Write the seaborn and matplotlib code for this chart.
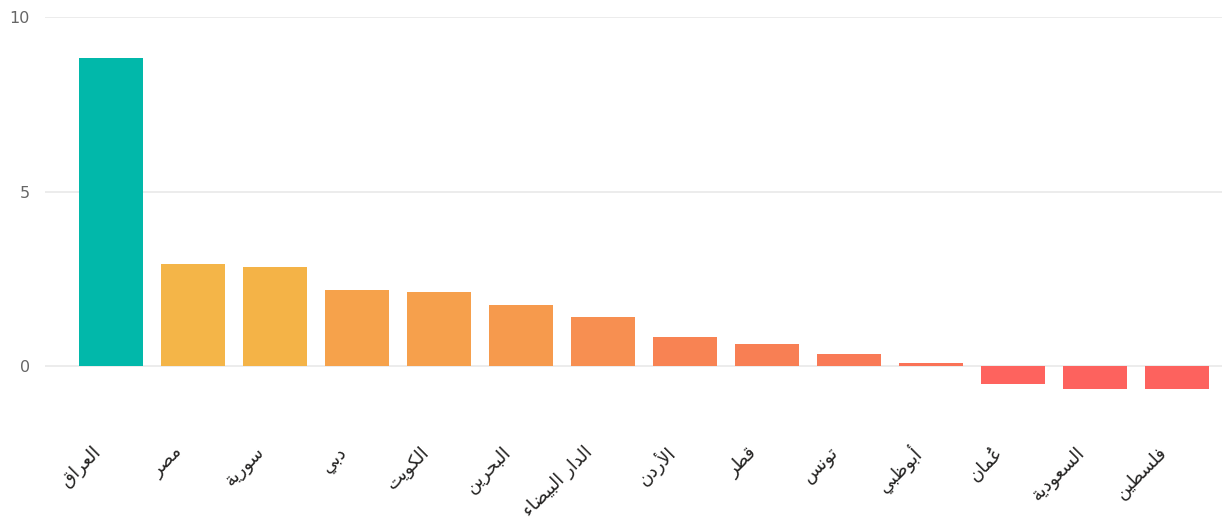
import matplotlib
matplotlib.use("Agg")
import matplotlib.pyplot as plt
import matplotlib.transforms as mtransforms
import seaborn as sns

# ---- data ----
categories = ["العراق", "مصر", "سورية", "دبي", "الكويت", "البحرين", "الدار البيضاء",
              "الأردن", "قطر", "تونس", "أبوظبي", "عُمان", "السعودية", "فلسطين"]
values = [8.83, 2.92, 2.84, 2.18, 2.13, 1.75, 1.40, 0.83, 0.63, 0.36, 0.08, -0.50, -0.66, -0.66]
y_ticks = [0, 5, 10]

# ---- style ----
bar_colors = ["#01B8AA", "#F4B548", "#F4B347", "#F6A24B", "#F6A04C", "#F69A4D", "#F78F51",
              "#F88353", "#F87F54", "#F97A56", "#FA7257", "#FE635E", "#FD625E", "#FD625E"]

# ---- minimal Arabic shaping (matplotlib has no complex text layout) ----
_FORMS = {
    "\u0621": (0xFE80, None, None, None),
    "\u0622": (0xFE81, 0xFE82, None, None),
    "\u0623": (0xFE83, 0xFE84, None, None),
    "\u0624": (0xFE85, 0xFE86, None, None),
    "\u0625": (0xFE87, 0xFE88, None, None),
    "\u0626": (0xFE89, 0xFE8A, 0xFE8B, 0xFE8C),
    "\u0627": (0xFE8D, 0xFE8E, None, None),
    "\u0628": (0xFE8F, 0xFE90, 0xFE91, 0xFE92),
    "\u0629": (0xFE93, 0xFE94, None, None),
    "\u062A": (0xFE95, 0xFE96, 0xFE97, 0xFE98),
    "\u062B": (0xFE99, 0xFE9A, 0xFE9B, 0xFE9C),
    "\u062C": (0xFE9D, 0xFE9E, 0xFE9F, 0xFEA0),
    "\u062D": (0xFEA1, 0xFEA2, 0xFEA3, 0xFEA4),
    "\u062E": (0xFEA5, 0xFEA6, 0xFEA7, 0xFEA8),
    "\u062F": (0xFEA9, 0xFEAA, None, None),
    "\u0630": (0xFEAB, 0xFEAC, None, None),
    "\u0631": (0xFEAD, 0xFEAE, None, None),
    "\u0632": (0xFEAF, 0xFEB0, None, None),
    "\u0633": (0xFEB1, 0xFEB2, 0xFEB3, 0xFEB4),
    "\u0634": (0xFEB5, 0xFEB6, 0xFEB7, 0xFEB8),
    "\u0635": (0xFEB9, 0xFEBA, 0xFEBB, 0xFEBC),
    "\u0636": (0xFEBD, 0xFEBE, 0xFEBF, 0xFEC0),
    "\u0637": (0xFEC1, 0xFEC2, 0xFEC3, 0xFEC4),
    "\u0638": (0xFEC5, 0xFEC6, 0xFEC7, 0xFEC8),
    "\u0639": (0xFEC9, 0xFECA, 0xFECB, 0xFECC),
    "\u063A": (0xFECD, 0xFECE, 0xFECF, 0xFED0),
    "\u0641": (0xFED1, 0xFED2, 0xFED3, 0xFED4),
    "\u0642": (0xFED5, 0xFED6, 0xFED7, 0xFED8),
    "\u0643": (0xFED9, 0xFEDA, 0xFEDB, 0xFEDC),
    "\u0644": (0xFEDD, 0xFEDE, 0xFEDF, 0xFEE0),
    "\u0645": (0xFEE1, 0xFEE2, 0xFEE3, 0xFEE4),
    "\u0646": (0xFEE5, 0xFEE6, 0xFEE7, 0xFEE8),
    "\u0647": (0xFEE9, 0xFEEA, 0xFEEB, 0xFEEC),
    "\u0648": (0xFEED, 0xFEEE, None, None),
    "\u0649": (0xFEEF, 0xFEF0, None, None),
    "\u064A": (0xFEF1, 0xFEF2, 0xFEF3, 0xFEF4),
}
_LAMALEF = {"\u0622": (0xFEF5, 0xFEF6), "\u0623": (0xFEF7, 0xFEF8),
            "\u0625": (0xFEF9, 0xFEFA), "\u0627": (0xFEFB, 0xFEFC)}


def _is_mark(c):
    return 0x064B <= ord(c) <= 0x065F or ord(c) == 0x0670


def shape_arabic(text):
    chars = list(text)
    n = len(chars)
    base_idx = [i for i, c in enumerate(chars) if not _is_mark(c)]
    clusters = []
    skip = set()
    for k, i in enumerate(base_idx):
        if i in skip:
            continue
        c = chars[i]
        prev_c = chars[base_idx[k - 1]] if k > 0 else None
        next_i = base_idx[k + 1] if k + 1 < len(base_idx) else None
        next_c = chars[next_i] if next_i is not None else None
        marks = []
        j = i + 1
        while j < n and _is_mark(chars[j]):
            marks.append(chars[j]); j += 1
        join_prev = (c in _FORMS and prev_c in _FORMS and _FORMS[prev_c][2] is not None)
        if c == "\u0644" and next_c in _LAMALEF:
            g = chr(_LAMALEF[next_c][1 if join_prev else 0])
            skip.add(next_i)
            j2 = next_i + 1
            while j2 < n and _is_mark(chars[j2]):
                marks.append(chars[j2]); j2 += 1
            clusters.append("".join(marks) + g)
            continue
        if c not in _FORMS:
            clusters.append("".join(marks) + c)
            continue
        iso, fin, ini, med = _FORMS[c]
        join_next = ini is not None and next_c in _FORMS
        if join_prev and join_next:
            g = med
        elif join_prev:
            g = fin
        elif join_next:
            g = ini
        else:
            g = iso
        clusters.append("".join(marks) + chr(g))
    return "".join(reversed(clusters))


# ---- figure ----
sns.set_style("white")
plt.rcParams["font.family"] = ["DejaVu Sans"]

fig = plt.figure(figsize=(12.25, 5.21), dpi=100)
ax = fig.add_axes([45 / 1225, 120 / 521, 1177 / 1225, 384 / 521])

sns.barplot(x=list(range(len(categories))), y=values, hue=list(range(len(categories))),
            palette=bar_colors, legend=False, width=0.79, ax=ax, saturation=1,
            edgecolor="none", linewidth=0)

ax.set_xlim(-0.805, 13.55)
ax.set_ylim(-1.0, 10.0)
ax.set_yticks(y_ticks)
ax.set_yticklabels([str(t) for t in y_ticks])
ax.yaxis.grid(True, color="#E9E9E9", linewidth=1.2)
ax.set_axisbelow(True)
for s in ax.spines.values():
    s.set_visible(False)
ax.tick_params(axis="y", length=0, pad=11, labelsize=11.5, labelcolor="#666666")
ax.tick_params(axis="x", length=0, pad=35, labelsize=13, labelcolor="#252423")
ax.set_xlabel("")
ax.set_ylabel("")

ax.set_xticks(list(range(len(categories))))
ax.set_xticklabels([shape_arabic(c) for c in categories], rotation=45,
                   ha="right", va="center", rotation_mode="anchor")
offset = mtransforms.ScaledTranslation(-13 / 100, 0, fig.dpi_scale_trans)
for lbl in ax.get_xticklabels():
    lbl.set_transform(lbl.get_transform() + offset)

fig.savefig("out.png", dpi=100, facecolor="white")
